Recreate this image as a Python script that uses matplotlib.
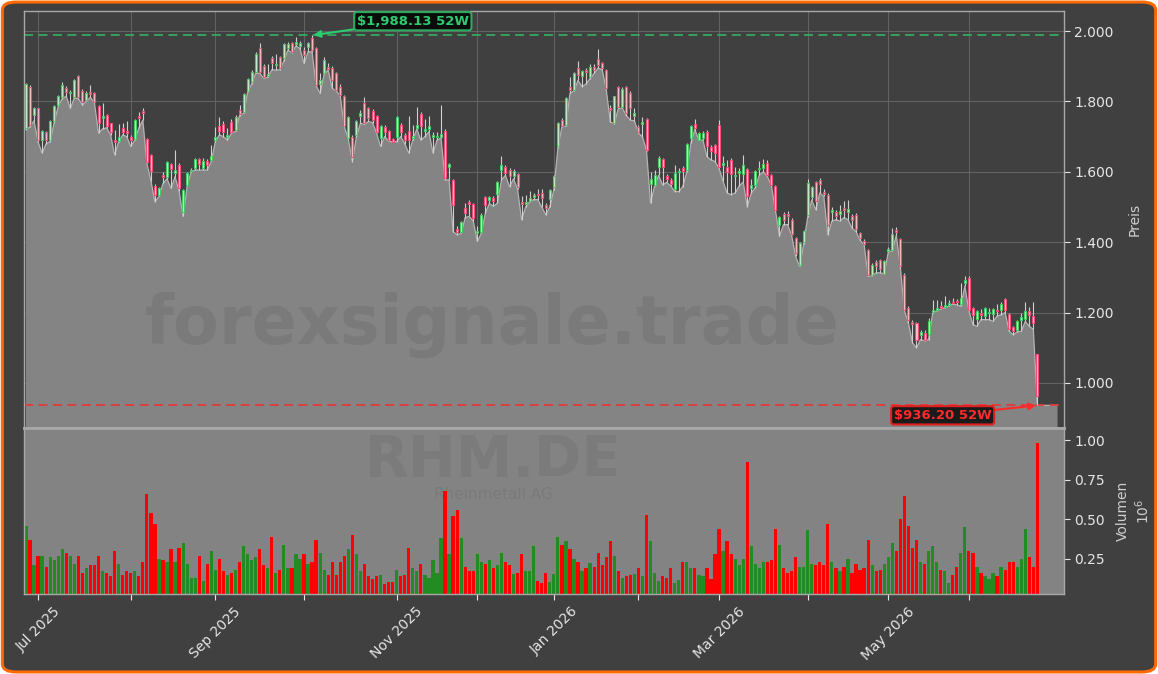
import matplotlib
matplotlib.use("Agg")
import matplotlib.pyplot as plt
import matplotlib.ticker as mticker
from matplotlib.patches import FancyBboxPatch
import numpy as np
import pandas as pd

# --- Daten -------------------------------------------------------------------
ticker = "RHM.DE"
company = "Rheinmetall AG"
holidays = ["2025-12-24", "2025-12-25", "2025-12-26", "2025-12-31",
            "2026-01-01", "2026-04-03", "2026-04-06", "2026-05-01"]

opens = [
    1724, 1842, 1762, 1780, 1689, 1712, 1690, 1745, 1790, 1813,
    1837, 1824, 1813, 1872, 1831, 1804, 1828, 1823, 1787, 1752,
    1762, 1738, 1690, 1688, 1725, 1715, 1700, 1692, 1760, 1772,
    1692, 1648, 1561, 1534, 1590, 1586, 1621, 1598, 1620, 1487,
    1563, 1602, 1610, 1635, 1610, 1630, 1634, 1690, 1730, 1735,
    1700, 1742, 1719, 1777, 1771, 1830, 1856, 1884, 1951, 1900,
    1872, 1922, 1903, 1925, 1922, 1951, 1965, 1963, 1958, 1946,
    1955, 1979, 1951, 1850, 1880, 1898, 1894, 1880, 1842, 1815,
    1695, 1700, 1705, 1760, 1795, 1781, 1774, 1759, 1695, 1727,
    1717, 1693, 1700, 1733, 1705, 1717, 1695, 1725, 1764, 1715,
    1722, 1700, 1698, 1700, 1717, 1614, 1577, 1437, 1430, 1497,
    1515, 1509, 1425, 1430, 1528, 1520, 1525, 1537, 1606, 1615,
    1605, 1587, 1593, 1515, 1508, 1518, 1527, 1538, 1540, 1505,
    1522, 1558, 1672, 1746, 1733, 1840, 1833, 1894, 1871, 1889,
    1870, 1899, 1920, 1908, 1889, 1781, 1738, 1842, 1785, 1842,
    1825, 1760, 1727, 1735, 1749, 1565, 1563, 1615, 1636, 1589,
    1577, 1551, 1600, 1612, 1606, 1695, 1736, 1691, 1696, 1714,
    1670, 1677, 1733, 1618, 1615, 1634, 1588, 1598, 1595, 1607,
    1555, 1563, 1608, 1610, 1625, 1591, 1560, 1450, 1481, 1481,
    1464, 1412, 1336, 1400, 1478, 1528, 1570, 1577, 1542, 1535,
    1485, 1487, 1480, 1497, 1486, 1475, 1478, 1426, 1402, 1378,
    1308, 1343, 1348, 1311, 1376, 1379, 1435, 1409, 1308, 1213,
    1172, 1169, 1137, 1142, 1138, 1202, 1207, 1218, 1216, 1221,
    1230, 1233, 1225, 1284, 1298, 1213, 1182, 1198, 1190, 1198,
    1197, 1208, 1207, 1239, 1197, 1159, 1150, 1180, 1182, 1204,
    1190, 1081]

highs = [
    1852, 1848, 1785, 1782, 1720, 1715, 1748, 1790, 1818, 1856,
    1845, 1832, 1865, 1874, 1835, 1830, 1847, 1826, 1790, 1795,
    1765, 1740, 1720, 1735, 1740, 1745, 1705, 1750, 1770, 1780,
    1697, 1652, 1565, 1556, 1600, 1632, 1625, 1662, 1625, 1552,
    1600, 1612, 1640, 1640, 1638, 1635, 1676, 1728, 1757, 1745,
    1725, 1750, 1762, 1790, 1825, 1866, 1890, 1940, 1965, 1905,
    1905, 1930, 1935, 1930, 1966, 1968, 1970, 1984, 1972, 1955,
    1970, 1988.13, 1955, 1880, 1925, 1910, 1900, 1885, 1850, 1818,
    1760, 1705, 1748, 1775, 1812, 1785, 1778, 1762, 1733, 1732,
    1720, 1697, 1760, 1738, 1710, 1760, 1733, 1785, 1770, 1750,
    1760, 1712, 1712, 1790, 1722, 1625, 1580, 1445, 1460, 1510,
    1521, 1512, 1445, 1482, 1530, 1532, 1530, 1575, 1645, 1620,
    1610, 1608, 1598, 1530, 1535, 1545, 1540, 1550, 1550, 1512,
    1552, 1592, 1742, 1752, 1812, 1870, 1885, 1915, 1890, 1895,
    1905, 1905, 1948, 1912, 1892, 1790, 1816, 1845, 1840, 1845,
    1830, 1780, 1732, 1755, 1752, 1600, 1605, 1645, 1640, 1595,
    1582, 1620, 1610, 1616, 1683, 1733, 1750, 1712, 1715, 1720,
    1675, 1680, 1746, 1644, 1634, 1640, 1615, 1610, 1648, 1612,
    1580, 1605, 1630, 1635, 1633, 1595, 1562, 1475, 1485, 1490,
    1468, 1415, 1400, 1435, 1580, 1560, 1575, 1582, 1550, 1540,
    1500, 1492, 1506, 1516, 1519, 1480, 1482, 1430, 1408, 1382,
    1340, 1348, 1352, 1350, 1385, 1440, 1443, 1412, 1312, 1218,
    1180, 1172, 1150, 1150, 1185, 1237, 1237, 1232, 1246, 1236,
    1241, 1239, 1284, 1305, 1305, 1216, 1208, 1210, 1216, 1212,
    1214, 1225, 1230, 1242, 1200, 1162, 1180, 1200, 1230, 1215,
    1230, 1083]

lows = [
    1720, 1728, 1745, 1685, 1653, 1680, 1686, 1740, 1786, 1808,
    1815, 1780, 1810, 1808, 1790, 1800, 1812, 1795, 1710, 1722,
    1725, 1705, 1648, 1686, 1705, 1700, 1672, 1690, 1724, 1747,
    1624, 1575, 1515, 1530, 1567, 1580, 1553, 1586, 1545, 1473,
    1560, 1600, 1605, 1605, 1605, 1605, 1630, 1686, 1705, 1700,
    1690, 1710, 1715, 1760, 1766, 1826, 1850, 1880, 1880, 1866,
    1868, 1890, 1889, 1890, 1915, 1946, 1938, 1958, 1950, 1908,
    1941, 1941, 1845, 1823, 1878, 1889, 1837, 1830, 1815, 1728,
    1693, 1629, 1700, 1738, 1735, 1743, 1740, 1710, 1672, 1700,
    1688, 1684, 1686, 1700, 1680, 1653, 1690, 1722, 1690, 1700,
    1714, 1653, 1690, 1696, 1577, 1577, 1430, 1421, 1425, 1470,
    1473, 1460, 1402, 1425, 1483, 1510, 1502, 1511, 1577, 1590,
    1558, 1580, 1550, 1464, 1500, 1515, 1521, 1521, 1500, 1478,
    1500, 1549, 1668, 1728, 1730, 1823, 1830, 1860, 1842, 1850,
    1865, 1880, 1895, 1890, 1835, 1742, 1736, 1780, 1781, 1760,
    1747, 1745, 1710, 1700, 1660, 1511, 1560, 1590, 1563, 1570,
    1560, 1544, 1544, 1558, 1600, 1681, 1720, 1690, 1690, 1643,
    1634, 1629, 1610, 1573, 1540, 1535, 1540, 1560, 1571, 1501,
    1540, 1555, 1591, 1600, 1587, 1560, 1490, 1417, 1450, 1450,
    1420, 1360, 1331, 1395, 1472, 1520, 1492, 1540, 1530, 1421,
    1460, 1464, 1460, 1470, 1464, 1440, 1430, 1405, 1393, 1303,
    1305, 1313, 1313, 1310, 1372, 1376, 1420, 1328, 1205, 1171,
    1114, 1100, 1123, 1120, 1123, 1198, 1205, 1210, 1214, 1218,
    1224, 1222, 1218, 1275, 1205, 1166, 1161, 1180, 1180, 1180,
    1175, 1190, 1194, 1200, 1147, 1137, 1145, 1147, 1175, 1161,
    1152, 936.2]

closes = [
    1850, 1733, 1780, 1690, 1716, 1690, 1743, 1787, 1815, 1847,
    1828, 1826, 1861, 1812, 1799, 1825, 1821, 1799, 1738, 1760,
    1729, 1714, 1685, 1700, 1712, 1710, 1690, 1747, 1752, 1768,
    1629, 1601, 1534, 1553, 1584, 1629, 1607, 1604, 1553, 1549,
    1596, 1606, 1636, 1622, 1630, 1620, 1645, 1700, 1715, 1712,
    1705, 1714, 1757, 1763, 1821, 1863, 1884, 1936, 1884, 1870,
    1878, 1910, 1907, 1894, 1963, 1963, 1941, 1970, 1965, 1932,
    1965, 1946, 1847, 1860, 1919, 1893, 1861, 1832, 1818, 1730,
    1757, 1643, 1743, 1766, 1738, 1752, 1747, 1714, 1730, 1714,
    1691, 1686, 1757, 1714, 1691, 1691, 1702, 1732, 1729, 1722,
    1730, 1706, 1703, 1708, 1582, 1622, 1506, 1430, 1456, 1483,
    1508, 1468, 1432, 1478, 1506, 1528, 1516, 1572, 1618, 1596,
    1587, 1603, 1558, 1508, 1514, 1526, 1533, 1534, 1525, 1498,
    1549, 1589, 1738, 1729, 1809, 1832, 1882, 1875, 1887, 1883,
    1897, 1888, 1904, 1894, 1837, 1776, 1814, 1785, 1835, 1767,
    1780, 1768, 1714, 1742, 1662, 1580, 1591, 1639, 1615, 1579,
    1566, 1596, 1603, 1601, 1679, 1730, 1724, 1710, 1710, 1672,
    1658, 1653, 1615, 1625, 1600, 1595, 1592, 1603, 1620, 1530,
    1562, 1601, 1612, 1623, 1591, 1563, 1492, 1471, 1462, 1475,
    1424, 1369, 1397, 1431, 1568, 1556, 1516, 1566, 1538, 1450,
    1492, 1473, 1488, 1492, 1494, 1464, 1437, 1412, 1396, 1308,
    1336, 1331, 1324, 1346, 1380, 1424, 1429, 1331, 1208, 1178,
    1168, 1123, 1145, 1123, 1175, 1208, 1212, 1214, 1222, 1226,
    1227, 1229, 1240, 1293, 1208, 1194, 1204, 1194, 1213, 1203,
    1210, 1204, 1223, 1207, 1154, 1147, 1175, 1188, 1204, 1192,
    1170, 962]

# Volumen in Mio. Stueck
volumes = [
    0.46, 0.37, 0.21, 0.27, 0.27, 0.20, 0.26, 0.24, 0.27, 0.31,
    0.29, 0.27, 0.22, 0.27, 0.16, 0.19, 0.21, 0.21, 0.27, 0.17,
    0.16, 0.14, 0.30, 0.22, 0.15, 0.17, 0.16, 0.17, 0.14, 0.23,
    0.66, 0.54, 0.47, 0.25, 0.24, 0.23, 0.31, 0.23, 0.32, 0.35,
    0.22, 0.13, 0.13, 0.27, 0.11, 0.22, 0.30, 0.18, 0.25, 0.17,
    0.15, 0.16, 0.18, 0.23, 0.33, 0.28, 0.24, 0.26, 0.31, 0.21,
    0.19, 0.39, 0.16, 0.18, 0.34, 0.19, 0.19, 0.28, 0.25, 0.28,
    0.22, 0.23, 0.37, 0.29, 0.18, 0.15, 0.23, 0.15, 0.23, 0.27,
    0.31, 0.40, 0.28, 0.17, 0.22, 0.14, 0.12, 0.14, 0.15, 0.092,
    0.105, 0.105, 0.18, 0.14, 0.15, 0.32, 0.19, 0.17, 0.22, 0.15,
    0.13, 0.24, 0.16, 0.38, 0.68, 0.28, 0.52, 0.56, 0.38, 0.20,
    0.17, 0.17, 0.28, 0.23, 0.22, 0.24, 0.19, 0.21, 0.29, 0.23,
    0.21, 0.155, 0.16, 0.28, 0.17, 0.17, 0.33, 0.11, 0.095, 0.16,
    0.105, 0.155, 0.39, 0.34, 0.36, 0.31, 0.25, 0.23, 0.17, 0.19,
    0.225, 0.20, 0.29, 0.21, 0.26, 0.36, 0.27, 0.17, 0.13, 0.14,
    0.15, 0.155, 0.19, 0.14, 0.53, 0.36, 0.16, 0.11, 0.14, 0.13,
    0.19, 0.10, 0.117, 0.23, 0.23, 0.19, 0.19, 0.15, 0.14, 0.19,
    0.12, 0.28, 0.44, 0.30, 0.36, 0.28, 0.25, 0.21, 0.25, 0.86,
    0.33, 0.22, 0.19, 0.23, 0.23, 0.24, 0.44, 0.34, 0.19, 0.16,
    0.17, 0.26, 0.20, 0.20, 0.43, 0.22, 0.21, 0.23, 0.21, 0.47,
    0.23, 0.19, 0.17, 0.20, 0.25, 0.16, 0.22, 0.18, 0.19, 0.37,
    0.21, 0.17, 0.18, 0.22, 0.26, 0.35, 0.30, 0.50, 0.65, 0.46,
    0.32, 0.37, 0.23, 0.22, 0.30, 0.33, 0.23, 0.18, 0.17, 0.10,
    0.15, 0.20, 0.29, 0.45, 0.30, 0.29, 0.20, 0.16, 0.14, 0.12,
    0.16, 0.14, 0.20, 0.18, 0.23, 0.23, 0.20, 0.25, 0.44, 0.26,
    0.20, 0.98]

dates = pd.bdate_range("2025-06-26", "2026-06-24")
dates = dates[~dates.isin(pd.to_datetime(holidays))]
n = len(closes)
assert len(dates) == n == len(opens) == len(highs) == len(lows) == len(volumes)

o = np.array(opens, dtype=float)
h = np.array(highs, dtype=float)
l = np.array(lows, dtype=float)
c = np.array(closes, dtype=float)
v = np.array(volumes, dtype=float)
x = np.arange(n)
up = c >= o

# --- Figur -------------------------------------------------------------------
bg = "#404040"
txt = "#e6e6e6"
fig = plt.figure(figsize=(11.58, 6.74), dpi=100, facecolor="white")
fig.patches.append(FancyBboxPatch((0.002, 0.003), 0.996, 0.994,
                                  boxstyle="round,pad=0,rounding_size=0.012",
                                  transform=fig.transFigure, fc=bg,
                                  ec="#ff6a00", lw=2.2, zorder=-10))

ax = fig.add_axes([0.0207, 0.365, 0.8981, 0.6187])
axv = fig.add_axes([0.0207, 0.1187, 0.8981, 0.2463], sharex=ax)

ax.set_facecolor(bg)
axv.set_facecolor("#838383")

# Flaeche unter den Tiefs
xf = np.append(x, n + 4)
lf = np.append(l, l[-1])
ax.fill_between(xf, lf, 0, color="#848484", zorder=1, lw=0)
ax.plot(xf, lf, color="#b4b4b4", lw=0.9, zorder=1.2)

# Kerzen
ax.vlines(x, l, h, colors="#d0d0d0", lw=0.8, zorder=3)
body = np.maximum(np.abs(c - o), 2.0)
ax.bar(x[up], body[up], bottom=np.minimum(o, c)[up], width=0.5,
       color="#cdeed2", edgecolor="#46c862", linewidth=0.8, zorder=4)
ax.bar(x[~up], body[~up], bottom=np.minimum(o, c)[~up], width=0.5,
       color="#f8c2ce", edgecolor="#ec4d72", linewidth=0.8, zorder=4)

# 52W Hoch / Tief
hi, lo = h.max(), l.min()
ihi, ilo = int(h.argmax()), int(l.argmin())
ax.axhline(hi, color="#35a860", ls=(0, (5, 3)), lw=1.3, zorder=2.5)
ax.axhline(lo, color="#e03a3a", ls=(0, (5, 3)), lw=1.3, zorder=2.5)
ax.annotate(f"${hi:,.2f} 52W", xy=(ihi, hi), xytext=(96, 2028),
            ha="center", va="center", color="#2ecc71", fontsize=9.5,
            fontweight="bold", zorder=6,
            bbox=dict(boxstyle="round,pad=0.2", fc="#0b0b0b", ec="#2eaa5e", lw=1.5),
            arrowprops=dict(arrowstyle="-|>", color="#2ecc71", lw=1.5,
                            mutation_scale=10, shrinkA=0, shrinkB=1))
ax.annotate(f"${lo:,.2f} 52W", xy=(ilo, lo), xytext=(227.5, 908),
            ha="center", va="center", color="#ff2a2a", fontsize=9.5,
            fontweight="bold", zorder=6,
            bbox=dict(boxstyle="round,pad=0.2", fc="#1a1a1a", ec="#e02020", lw=1.5),
            arrowprops=dict(arrowstyle="-|>", color="#ff2a2a", lw=1.5,
                            mutation_scale=10, shrinkA=0, shrinkB=1))

# Wasserzeichen
ax.text(0.45, 0.247, "forexsignale.trade", transform=ax.transAxes,
        ha="center", va="center", fontsize=48, fontweight="bold",
        color="#7a7a7a", zorder=1.5)
axv.text(0.451, 0.80, ticker, transform=axv.transAxes, ha="center",
         va="center", fontsize=41, fontweight="bold", color="#7b7b7b", zorder=0.5)
axv.text(0.451, 0.60, company, transform=axv.transAxes, ha="center",
         va="center", fontsize=11, color="#7a7a7a", zorder=0.5)

# Volumen
vcol = np.where(up, "#228b22", "#ff0000")
axv.bar(x, v, width=0.8, color=vcol, zorder=2)
axv.set_ylim(0.3 * v.min(), 1.1 * v.max())

# Achsen
ax.set_xlim(-0.5, 257.6)
ax.set_ylim(872, 2057)
for a in (ax, axv):
    a.yaxis.tick_right()
    a.yaxis.set_label_position("right")
    a.tick_params(colors=txt, labelsize=10, length=4)
    for s in a.spines.values():
        s.set_color("#a8a8a8")
        s.set_linewidth(1.0)
ax.spines["bottom"].set_linewidth(2.0)
axv.spines["top"].set_linewidth(2.0)

ax.yaxis.set_major_locator(mticker.MultipleLocator(200))
ax.yaxis.set_major_formatter(mticker.FuncFormatter(lambda y, p: f"{y:,.0f}".replace(",", ".")))
axv.yaxis.set_major_locator(mticker.MultipleLocator(0.25))
axv.yaxis.set_major_formatter(mticker.FuncFormatter(lambda y, p: f"{y:.2f}"))

month_idx = [i for i in range(1, n) if dates[i].month != dates[i - 1].month]
axv.set_xticks(month_idx)
axv.set_xticklabels([dates[i].strftime("%b %Y") if dates[i].month % 2 == 1 else ""
                     for i in month_idx], rotation=45, ha="center")
ax.tick_params(axis="x", bottom=False, labelbottom=False)

ax.set_axisbelow(True)
ax.grid(True, color="#666666", lw=0.8, alpha=0.9)

ax.set_ylabel("Preis", color="#cfcfcf", fontsize=10, labelpad=10)
axv.set_ylabel("Volumen\n$10^{6}$", color="#cfcfcf", fontsize=10, labelpad=8)

fig.savefig("out.png", dpi=100, facecolor=fig.get_facecolor())
